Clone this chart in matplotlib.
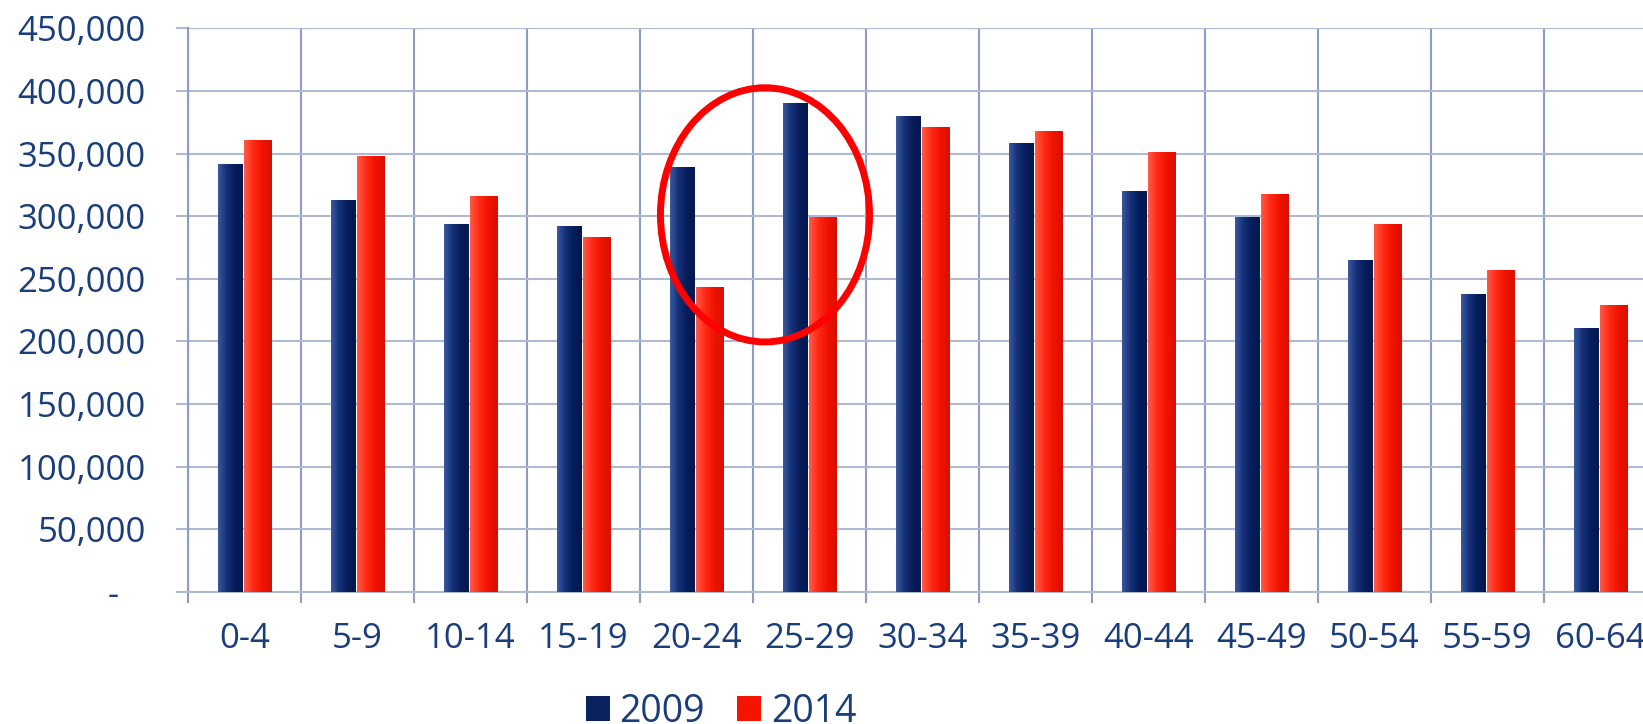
import numpy as np
import matplotlib
matplotlib.use("Agg")
from matplotlib import pyplot as plt
from matplotlib.patches import Patch, Ellipse
from matplotlib.ticker import FuncFormatter
from matplotlib.colors import LinearSegmentedColormap

# data
age_groups = ["0-4", "5-9", "10-14", "15-19", "20-24", "25-29", "30-34",
              "35-39", "40-44", "45-49", "50-54", "55-59", "60-64"]
pop_2009 = [342000, 313000, 294000, 292000, 339000, 390000, 380000,
            358000, 320000, 299000, 265000, 238000, 211000]
pop_2014 = [361000, 348000, 316000, 283000, 243000, 299000, 371000,
            368000, 351000, 318000, 294000, 257000, 229000]
y_ticks = list(range(0, 450001, 50000))

text_col = "#1A3D7C"
vgrid_col = "#8C9CC2"
hgrid_col = "#AEB9D3"

plt.rcParams["font.family"] = ["Open Sans", "DejaVu Sans"]

W, H = 1643, 724
fig = plt.figure(figsize=(W / 100, H / 100), dpi=100)
ax = fig.add_axes([188 / W, 132.3 / H, 1469 / W, 563.4 / H])

x = np.arange(len(age_groups))
b1 = ax.bar(x - 0.124, pop_2009, width=0.218, color="#0A225E", zorder=3)
b2 = ax.bar(x + 0.119, pop_2014, width=0.240, color="#F51400", zorder=3)

# bevel-ish shading on each bar
cm_blue = LinearSegmentedColormap.from_list("b", ["#3A5A9C", "#16307A", "#061D5A", "#021850"])
cm_red = LinearSegmentedColormap.from_list("r", ["#FF5A48", "#FF2A14", "#F01200", "#D81000"])
grad = np.linspace(0, 1, 64).reshape(1, -1)
for bars, cmap in ((b1, cm_blue), (b2, cm_red)):
    for p in bars:
        x0, w, h = p.get_x(), p.get_width(), p.get_height()
        im = ax.imshow(grad, cmap=cmap, aspect="auto", extent=(x0, x0 + w, 0, h),
                       zorder=4, interpolation="bilinear")
        im.set_clip_path(p)

ax.set_xlim(-0.5, 12.376)
ax.set_ylim(0, 450000)
ax.set_yticks(y_ticks)
ax.yaxis.set_major_formatter(FuncFormatter(lambda v, _: "-   " if v == 0 else f"{int(v):,}"))

ax.set_xticks(x)
ax.set_xticklabels(age_groups)
ax.set_xticks(np.arange(-0.5, 13, 1), minor=True)

ax.tick_params(axis="x", which="major", length=0, pad=22, labelsize=25, labelcolor=text_col)
ax.tick_params(axis="x", which="minor", length=8, width=1.5, color=vgrid_col, direction="out")
ax.tick_params(axis="y", length=8.5, width=1.5, color=hgrid_col, pad=22,
               labelsize=25, labelcolor=text_col)

ax.grid(True, axis="x", which="minor", color=vgrid_col, linewidth=1.5, zorder=0)
ax.grid(True, axis="y", which="major", color=hgrid_col, linewidth=1.5, zorder=0)
ax.set_axisbelow(True)

for s in ("top", "right"):
    ax.spines[s].set_visible(False)
ax.spines["left"].set_color(vgrid_col)
ax.spines["left"].set_linewidth(1.5)
ax.spines["bottom"].set_color(hgrid_col)
ax.spines["bottom"].set_linewidth(1.5)

# highlight circle around 20-24 / 25-29
ell = Ellipse((4.606, 301000), width=1.85, height=203000, fill=False,
              edgecolor="#FF0000", linewidth=5, zorder=6)
ax.add_patch(ell)

handles = [Patch(facecolor="#0A225E", label="2009"),
           Patch(facecolor="#F51400", label="2014")]
fig.legend(handles=handles, loc="center", bbox_to_anchor=(721 / W, 1 - 712 / H),
           ncol=2, frameon=False, fontsize=27, labelcolor=text_col,
           handlelength=0.65, handleheight=0.65, handletextpad=0.25,
           columnspacing=0.85)

fig.savefig("out.png", dpi=100)
